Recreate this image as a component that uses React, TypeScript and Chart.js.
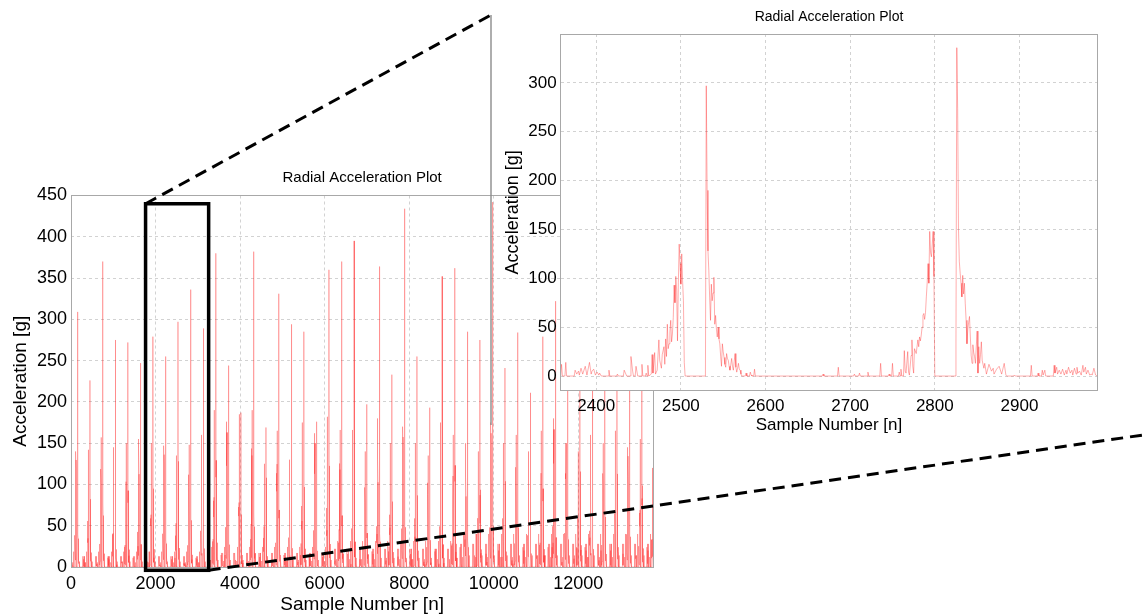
import { useEffect, useRef } from "react";
import { Chart, registerables } from "chart.js";

Chart.register(...registerables);

const FONT = "'Liberation Sans', Arial, Helvetica, sans-serif";
const W = 1143;
const H = 614;

// ---- Main plot: one spike per revolution --------------------------------
// sample index of each revolution's main spike
const mainPeakSample = [
  150, 447, 745, 1042, 1340, 1637, 1935, 2232, 2530, 2826, 3125, 3422, 3720, 4017, 4315, 4612,
  4910, 5207, 5505, 5802, 6100, 6397, 6695, 6992, 7290, 7587, 7885, 8182, 8480, 8777, 9075,
  9372, 9670, 9967, 10265, 10562, 10860, 11157, 11455, 11742, 12035, 12328, 12621, 12914,
  13207, 13500, 13793,
];
// height of the main spike [g]
const mainPeak = [
  309, 226, 370, 275, 272, 247, 279, 255, 297, 336, 289, 380, 244, 187, 382, 169, 331, 294,
  285, 176, 360, 370, 395, 197, 364, 233, 434, 255, 193, 352, 362, 285, 275, 442, 241, 284,
  211, 279, 322, 300, 340, 280, 360, 310, 330, 290, 270,
];
// height of the build-up cluster just before each spike [g]
const mainPre = [
  140, 142, 157, 145, 150, 155, 150, 147, 135, 148, 160, 190, 176, 185, 190, 125, 165, 130,
  175, 162, 182, 166, 166, 140, 180, 150, 170, 150, 135, 175, 160, 150, 140, 175, 150, 160,
  140, 165, 180, 150, 140, 160, 150, 165, 145, 155, 120,
];
// background noise level between spikes [g]
const mainNoise = [
  13, 13, 13, 13, 13, 13, 13, 13, 13, 13, 13, 17, 17, 17, 17, 17, 17, 17, 17, 17, 17, 22, 22,
  22, 22, 22, 22, 22, 22, 22, 22, 28, 28, 28, 28, 28, 28, 28, 28, 28, 28, 28, 28, 28, 28, 28, 28,
];

const mainXTicks = [0, 2000, 4000, 6000, 8000, 10000, 12000];
const mainYTicks = [0, 50, 100, 150, 200, 250, 300, 350, 400, 450];

// ---- Zoomed plot: samples 2358 - 2992 ------------------------------------
const insetTrace: [number, number][] = [
  [2358, 0], [2359, 12], [2360, 0], [2363, 0], [2364, 14], [2365, 0], [2374, 0], [2375, 6],
  [2377, 2], [2379, 5], [2380, 1], [2382, 8], [2384, 2], [2387, 10], [2389, 1], [2392, 14],
  [2394, 2], [2395, 5], [2397, 7], [2399, 1], [2401, 4], [2403, 1], [2404, 3], [2406, 0],
  [2414, 0], [2415, 6], [2416, 0], [2424, 0], [2425, 2], [2426, 0], [2432, 0], [2433, 6],
  [2435, 2], [2436, 0], [2440, 0], [2441, 20], [2443, 5], [2444, 0], [2446, 0], [2447, 10],
  [2449, 0], [2453, 0], [2454, 12], [2455, 0], [2458, 0], [2459, 3], [2460, 0], [2461, 11],
  [2462, 0], [2465, 2], [2466, 22], [2467, 3], [2469, 24], [2470, 2], [2472, 6], [2474, 37],
  [2475, 16], [2477, 8], [2478, 22], [2480, 30], [2481, 12], [2482, 38], [2483, 20], [2484, 53],
  [2485, 28], [2486, 33], [2487, 45], [2488, 57], [2489, 35], [2490, 43], [2491, 60], [2492, 93],
  [2493, 75], [2494, 102], [2495, 88], [2496, 36], [2497, 96], [2498, 135], [2499, 115],
  [2500, 94], [2501, 125], [2502, 98], [2503, 77], [2504, 14], [2505, 0],
  [2529, 0], [2530, 297], [2531, 190], [2532, 128], [2533, 108], [2534, 80], [2535, 57],
  [2536, 94], [2537, 77], [2538, 85], [2539, 101], [2540, 53], [2541, 62], [2542, 48],
  [2543, 40], [2544, 50], [2545, 38], [2546, 33], [2547, 20], [2548, 10], [2549, 33],
  [2550, 25], [2551, 19], [2552, 12], [2553, 9], [2554, 23], [2555, 18], [2556, 16], [2557, 10],
  [2558, 6], [2559, 12], [2560, 18], [2561, 10], [2562, 6], [2563, 15], [2564, 23], [2565, 9],
  [2566, 4], [2567, 8], [2568, 13], [2569, 7], [2570, 6], [2571, 2], [2572, 0],
  [2576, 0], [2577, 3], [2578, 0], [2581, 0], [2582, 4], [2583, 1], [2584, 0], [2586, 0],
  [2587, 7], [2588, 0],
  [2667, 0], [2668, 2], [2669, 0], [2685, 0], [2686, 9], [2687, 0], [2704, 0], [2705, 2],
  [2706, 0], [2710, 0], [2711, 3], [2712, 0], [2720, 0], [2721, 4], [2722, 0], [2735, 0],
  [2736, 13], [2737, 0], [2745, 0], [2746, 2], [2747, 0], [2749, 0], [2750, 13], [2751, 0],
  [2757, 0], [2758, 4], [2759, 0], [2760, 7], [2761, 0], [2763, 0], [2764, 26], [2765, 5],
  [2766, 3], [2768, 25], [2769, 4], [2770, 1], [2772, 21], [2773, 37], [2774, 10], [2775, 3],
  [2776, 28], [2778, 23], [2780, 37], [2781, 30], [2782, 40], [2783, 36], [2784, 42],
  [2785, 50], [2786, 62], [2787, 64], [2788, 58], [2789, 65], [2790, 81], [2791, 95],
  [2792, 115], [2793, 95], [2794, 148], [2795, 126], [2796, 122], [2797, 135], [2798, 148],
  [2799, 102], [2800, 0],
  [2824, 0], [2825, 33], [2826, 336], [2827, 274], [2828, 150], [2829, 117], [2830, 105],
  [2831, 95], [2832, 81], [2833, 103], [2834, 84], [2835, 95], [2836, 74], [2837, 57],
  [2838, 33], [2839, 48], [2840, 55], [2841, 61], [2842, 40], [2843, 21], [2844, 13],
  [2845, 32], [2846, 24], [2847, 20], [2848, 13], [2849, 30], [2850, 46], [2851, 3], [2852, 30],
  [2853, 13], [2854, 22], [2855, 35], [2856, 16], [2858, 8], [2859, 13], [2861, 2], [2864, 12],
  [2867, 5], [2869, 8], [2870, 2], [2873, 7], [2876, 10], [2879, 2], [2882, 13], [2884, 1],
  [2885, 0], [2893, 0], [2894, 1], [2895, 0], [2913, 0], [2914, 11], [2915, 0], [2921, 0],
  [2922, 3], [2923, 0], [2926, 0], [2927, 6], [2928, 1], [2930, 6], [2931, 0], [2940, 0],
  [2941, 11], [2942, 3], [2944, 9], [2945, 2], [2947, 6], [2949, 2], [2951, 7], [2953, 1],
  [2955, 6], [2956, 2], [2958, 9], [2960, 3], [2962, 6], [2963, 1], [2965, 8], [2967, 2],
  [2968, 9], [2969, 3], [2971, 5], [2973, 1], [2975, 11], [2976, 4], [2978, 9], [2979, 2],
  [2981, 6], [2983, 1], [2985, 2], [2986, 1], [2988, 8], [2990, 1], [2992, 0],
];

const insetXTicks = [2400, 2500, 2600, 2700, 2800, 2900];
const insetYTicks = [0, 50, 100, 150, 200, 250, 300];

// zoom window marked on the main plot (samples, g)
const zoomSamples = [1764, 3256];
const zoomAccel = [-4, 440];

// ---- plot geometry -------------------------------------------------------
const MAIN_AREA = { left: 71, top: 195.5, right: 653.3, bottom: 567 };
const INSET_AREA = { left: 560.7, top: 34, right: 1097.3, bottom: 390.7 };
const FRAME = { x: 491, top: 15, bottom: 425 }; // frame edge of the zoomed view
const LOWER_LEAD_END = { x: W, y: 435 };

const GRID = "#d2d2d2";
const BOX = "#a8a8a8";

// One revolution of the zoomed trace is used as the shape of every
// revolution on the full plot, scaled to that revolution's measured heights.
const CYCLE_FROM = 2358;
const CYCLE_TO = 2654;
const CYCLE_PEAK = 2530;
const CYCLE_REF = { peak: 297, pre: 135, noise: 14 };

function buildMainTrace() {
  const cycle = insetTrace
    .filter(([s]) => s >= CYCLE_FROM && s <= CYCLE_TO)
    .map(([s, v]) => [s - CYCLE_PEAK, v]);
  const pts: { x: number; y: number }[] = [];
  mainPeakSample.forEach((p, k) => {
    for (const [o, v] of cycle) {
      let g;
      if (o >= -1 && o <= 46) g = mainPeak[k] / CYCLE_REF.peak;
      else if (o >= -72 && o <= -25) g = mainPre[k] / CYCLE_REF.pre;
      else g = mainNoise[k] / CYCLE_REF.noise;
      pts.push({ x: p + o, y: v * g });
    }
  });
  return pts;
}

function linearAxis(opts: {
  min: number;
  max: number;
  ticks: number[];
  fontSize: number;
  padding: number;
  fit: (s: any) => void;
}) {
  return {
    type: "linear",
    min: opts.min,
    max: opts.max,
    afterFit: opts.fit,
    afterBuildTicks: (s: any) => {
      s.ticks = opts.ticks.map((value) => ({ value }));
    },
    ticks: {
      font: { size: opts.fontSize, family: FONT },
      color: "#000",
      padding: opts.padding,
      maxRotation: 0,
      autoSkip: false,
      callback: (v: any) => String(v),
    },
    grid: { color: GRID, lineWidth: 1, drawTicks: false },
    border: { display: false, dash: [3, 3] },
  };
}

function strokeBox(ctx: CanvasRenderingContext2D, a: any) {
  const l = Math.round(a.left - 0.5) + 0.5;
  const t = Math.round(a.top - 0.5) + 0.5;
  const r = Math.round(a.right - 0.5) + 0.5;
  const b = Math.round(a.bottom - 0.5) + 0.5;
  ctx.save();
  ctx.strokeStyle = BOX;
  ctx.lineWidth = 1;
  ctx.setLineDash([]);
  ctx.strokeRect(l, t, r - l, b - t);
  ctx.restore();
}

function text(
  ctx: CanvasRenderingContext2D,
  s: string,
  x: number,
  y: number,
  size: number,
  rotate = false
) {
  ctx.save();
  ctx.fillStyle = "#000";
  ctx.font = `${size}px ${FONT}`;
  ctx.textAlign = "center";
  ctx.textBaseline = "alphabetic";
  ctx.translate(x, y);
  if (rotate) ctx.rotate(-Math.PI / 2);
  ctx.fillText(s, 0, 0);
  ctx.restore();
}

const mainDecor = {
  id: "mainDecor",
  afterDraw(chart: any) {
    const { ctx, chartArea: a, scales } = chart;
    strokeBox(ctx, a);
    const cx = (a.left + a.right) / 2;
    const cy = (a.top + a.bottom) / 2;
    text(ctx, "Radial Acceleration Plot", cx, 181.5, 15);
    text(ctx, "Sample Number [n]", cx, 610, 19);
    text(ctx, "Acceleration [g]", 25.5, cy, 19, true);

    const x0 = scales.x.getPixelForValue(zoomSamples[0]);
    const x1 = scales.x.getPixelForValue(zoomSamples[1]);
    const y0 = scales.y.getPixelForValue(zoomAccel[0]);
    const y1 = scales.y.getPixelForValue(zoomAccel[1]);

    ctx.save();
    // frame edge of the zoomed view
    ctx.strokeStyle = "#8c8c8c";
    ctx.lineWidth = 1.4;
    ctx.beginPath();
    ctx.moveTo(FRAME.x, FRAME.top);
    ctx.lineTo(FRAME.x, FRAME.bottom);
    ctx.stroke();

    // leader lines
    ctx.strokeStyle = "#000";
    ctx.lineWidth = 3;
    ctx.setLineDash([12, 7]);
    ctx.beginPath();
    ctx.moveTo(x0, y1);
    ctx.lineTo(FRAME.x, FRAME.top);
    ctx.moveTo(x1, y0);
    ctx.lineTo(LOWER_LEAD_END.x, LOWER_LEAD_END.y);
    ctx.stroke();

    // zoom window
    ctx.setLineDash([]);
    ctx.lineWidth = 3.5;
    ctx.lineJoin = "miter";
    ctx.strokeRect(x0, y1, x1 - x0, y0 - y1);
    ctx.restore();
  },
};

const insetDecor = {
  id: "insetDecor",
  beforeDraw(chart: any) {
    const { ctx, chartArea: a } = chart;
    ctx.save();
    ctx.fillStyle = "#fff";
    ctx.fillRect(a.left, a.top, a.right - a.left, a.bottom - a.top);
    ctx.restore();
  },
  afterDraw(chart: any) {
    const { ctx, chartArea: a } = chart;
    strokeBox(ctx, a);
    const cx = (a.left + a.right) / 2;
    const cy = (a.top + a.bottom) / 2;
    text(ctx, "Radial Acceleration Plot", cx, 20.5, 14);
    text(ctx, "Sample Number [n]", cx, 429.5, 17);
    text(ctx, "Acceleration [g]", 518, cy, 18, true);
  },
};

export default function App() {
  const mainRef = useRef<HTMLCanvasElement>(null);
  const insetRef = useRef<HTMLCanvasElement>(null);

  useEffect(() => {
    const mainTrace = buildMainTrace();
    const main = new Chart(mainRef.current as HTMLCanvasElement, {
      type: "line",
      data: {
        datasets: [
          {
            data: mainTrace,
            borderColor: "rgba(255, 30, 30, 0.3)",
            borderWidth: 1,
            pointRadius: 0,
            tension: 0,
            fill: false,
          },
        ],
      },
      options: {
        animation: false,
        responsive: false,
        events: [],
        parsing: false,
        layout: {
          padding: { left: 0, top: MAIN_AREA.top, right: W - MAIN_AREA.right, bottom: 0 },
        },
        plugins: { legend: { display: false }, tooltip: { enabled: false } },
        scales: {
          x: linearAxis({
            min: 0,
            max: 13775,
            ticks: mainXTicks,
            fontSize: 18,
            padding: 6,
            fit: (s) => {
              s.height = H - MAIN_AREA.bottom;
            },
          }),
          y: linearAxis({
            min: 0,
            max: 450,
            ticks: mainYTicks,
            fontSize: 18,
            padding: 4,
            fit: (s) => {
              s.width = MAIN_AREA.left;
            },
          }),
        },
      } as any,
      plugins: [mainDecor],
    });

    const insetPad = { left: 460, top: INSET_AREA.top, right: W - INSET_AREA.right, bottom: 150 };
    const inset = new Chart(insetRef.current as HTMLCanvasElement, {
      type: "line",
      data: {
        datasets: [
          {
            data: insetTrace.map(([x, y]) => ({ x, y })),
            borderColor: "rgba(255, 30, 30, 0.36)",
            borderWidth: 1,
            pointRadius: 0,
            tension: 0,
            fill: false,
          },
        ],
      },
      options: {
        animation: false,
        responsive: false,
        events: [],
        parsing: false,
        layout: { padding: insetPad },
        plugins: { legend: { display: false }, tooltip: { enabled: false } },
        scales: {
          x: linearAxis({
            min: 2358,
            max: 2992,
            ticks: insetXTicks,
            fontSize: 17,
            padding: 5,
            fit: (s) => {
              s.height = H - insetPad.bottom - INSET_AREA.bottom;
            },
          }),
          y: linearAxis({
            min: -15,
            max: 350,
            ticks: insetYTicks,
            fontSize: 17,
            padding: 4,
            fit: (s) => {
              s.width = INSET_AREA.left - insetPad.left;
            },
          }),
        },
      } as any,
      plugins: [insetDecor],
    });

    return () => {
      main.destroy();
      inset.destroy();
    };
  }, []);

  return (
    <div
      style={{
        position: "absolute",
        left: 0,
        top: 0,
        width: W,
        height: H,
        background: "#fff",
        overflow: "hidden",
      }}
    >
      <canvas ref={mainRef} width={W} height={H} style={{ position: "absolute", left: 0, top: 0 }} />
      <canvas ref={insetRef} width={W} height={H} style={{ position: "absolute", left: 0, top: 0 }} />
    </div>
  );
}
